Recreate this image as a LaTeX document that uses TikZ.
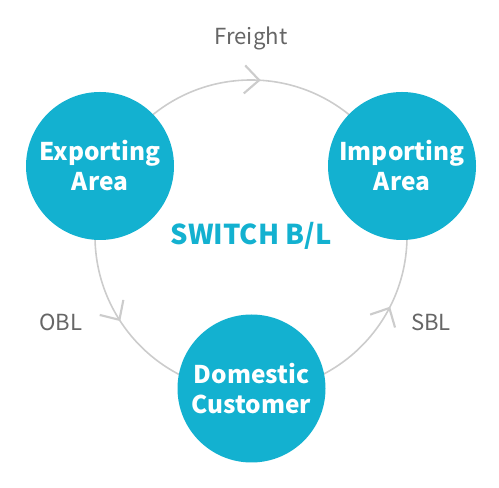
\documentclass[tikz,border=0pt]{standalone}
\usepackage{fontspec}
\setmainfont{Noto Sans CJK KR}
\usepackage{xcolor}
\usetikzlibrary{decorations.markings, math}
\definecolor{qcyan}{RGB}{19,177,208}
\definecolor{qgray}{RGB}{204,204,204}
\definecolor{qtext}{RGB}{102,102,102}

\begin{document}
\begin{tikzpicture}[x=0.75pt,y=0.75pt,
  area/.style={circle, fill=qcyan, minimum size=111pt, inner sep=0pt, text=white,
    font=\bfseries\fontsize{18.3}{22.5}\selectfont, align=center},
  flowlabel/.style={text=qtext, font=\fontsize{16.6}{20}\selectfont},
  ring/.style={draw=qgray, line width=1.2pt},
  chevron/.style={postaction={decorate}, decoration={markings,
    mark=at position 0.5 with {\draw[qgray, line width=1.6pt] (-11pt,10.5pt) -- (0,0) -- (-11pt,-10.5pt);}}}
]

\tikzmath{
\R = 156; %ring radius
}

\useasboundingbox (0,0) rectangle (499,488);
\coordinate (hub) at (251,252);

%ring:
\draw[ring] (hub) circle (\R);
%flow arrows on the ring
\path[chevron] (hub) ++(147:\R) arc (147:27:\R);
\path[chevron] (hub) ++(190:\R) arc (190:235:\R);
\path[chevron] (hub) ++(-50:\R) arc (-50:-5:\R);

%areas
\node[area] (exporting) at (100,322) {Exporting\\Area};
\node[area] (importing) at (402,322) {Importing\\Area};
\node[area] (domestic) at (251.5,99.5) {Domestic\\Customer};

%labels
\node[text=qcyan, font=\bfseries\fontsize{20.5}{24}\selectfont] (switch) at (hub) {SWITCH B/L};
\node[flowlabel] (freight) at (251,450) {Freight};
\node[flowlabel] (obl) at (61,166) {OBL};
\node[flowlabel] (sbl) at (431,166) {SBL};

\end{tikzpicture}
\end{document}
